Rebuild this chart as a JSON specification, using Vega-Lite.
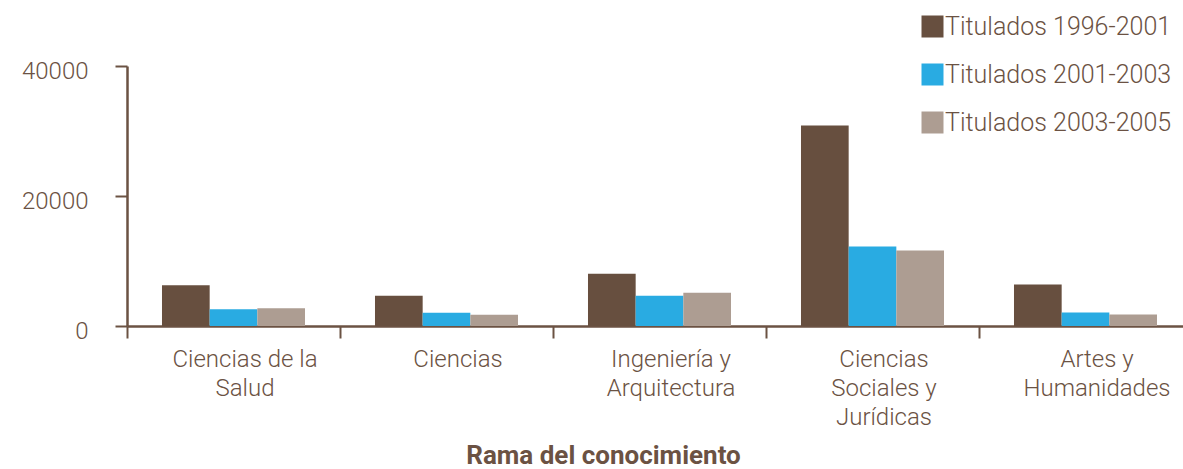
{
  "$schema": "https://vega.github.io/schema/vega-lite/v6.json",
  "autosize": {"type": "none"},
  "width": 1056,
  "height": 260,
  "padding": {"left": 127, "top": 66, "right": 0, "bottom": 143},
  "background": "white",
  "config": {
    "view": {"stroke": null},
    "font": "Roboto",
    "axis": {"grid": false, "domainColor": "#6b5243", "tickColor": "#6b5243", "labelColor": "#6b5243", "titleColor": "#6b5243", "labelFont": "Roboto", "labelFontWeight": 300, "labelFontSize": 24, "domainWidth": 2.5, "tickWidth": 2, "tickSize": 12}
  },
  "data": {
    "values": [
      {"rama": "Ciencias de la Salud", "periodo": "Titulados 1996-2001", "titulados": 6260},
      {"rama": "Ciencias de la Salud", "periodo": "Titulados 2001-2003", "titulados": 2570},
      {"rama": "Ciencias de la Salud", "periodo": "Titulados 2003-2005", "titulados": 2720},
      {"rama": "Ciencias", "periodo": "Titulados 1996-2001", "titulados": 4660},
      {"rama": "Ciencias", "periodo": "Titulados 2001-2003", "titulados": 2050},
      {"rama": "Ciencias", "periodo": "Titulados 2003-2005", "titulados": 1740},
      {"rama": "Ingeniería y Arquitectura", "periodo": "Titulados 1996-2001", "titulados": 8050},
      {"rama": "Ingeniería y Arquitectura", "periodo": "Titulados 2001-2003", "titulados": 4660},
      {"rama": "Ingeniería y Arquitectura", "periodo": "Titulados 2003-2005", "titulados": 5120},
      {"rama": "Ciencias Sociales y Jurídicas", "periodo": "Titulados 1996-2001", "titulados": 30850},
      {"rama": "Ciencias Sociales y Jurídicas", "periodo": "Titulados 2001-2003", "titulados": 12230},
      {"rama": "Ciencias Sociales y Jurídicas", "periodo": "Titulados 2003-2005", "titulados": 11620},
      {"rama": "Artes y Humanidades", "periodo": "Titulados 1996-2001", "titulados": 6390},
      {"rama": "Artes y Humanidades", "periodo": "Titulados 2001-2003", "titulados": 2080},
      {"rama": "Artes y Humanidades", "periodo": "Titulados 2003-2005", "titulados": 1770}
    ]
  },
  "mark": {"type": "bar"},
  "encoding": {
    "x": {
      "field": "rama",
      "type": "nominal",
      "sort": null,
      "scale": {"range": [0, 1065], "paddingInner": 0.3286, "paddingOuter": 0.1643},
      "axis": {
        "title": "Rama del conocimiento",
        "titleFont": "Roboto",
        "titleFontWeight": "bold",
        "titleFontSize": 26,
        "titleX": 476,
        "titleY": 137,
        "titleBaseline": "alphabetic",
        "labelAngle": 0,
        "bandPosition": 0,
        "tickOffset": -35,
        "labelOffset": 46,
        "labelAlign": "center",
        "labelPadding": 9,
        "labelLineHeight": 29,
        "labelBaseline": "top",
        "labelLimit": 300,
        "labelExpr": "{'Ciencias de la Salud': ['Ciencias de la', 'Salud'], 'Ciencias': ['Ciencias'], 'Ingeniería y Arquitectura': ['Ingeniería y', 'Arquitectura'], 'Ciencias Sociales y Jurídicas': ['Ciencias', 'Sociales y', 'Jurídicas'], 'Artes y Humanidades': ['Artes y', 'Humanidades']}[datum.value]"
      }
    },
    "xOffset": {"field": "periodo", "type": "nominal", "scale": {"paddingInner": 0, "paddingOuter": 0}},
    "y": {
      "field": "titulados",
      "type": "quantitative",
      "scale": {"domain": [0, 40000], "nice": false},
      "axis": {"title": null, "values": [0, 20000, 40000], "format": "d", "labelPadding": 27, "labelOffset": 5}
    },
    "color": {
      "field": "periodo",
      "type": "nominal",
      "scale": {"domain": ["Titulados 1996-2001", "Titulados 2001-2003", "Titulados 2003-2005"], "range": ["#674f3f", "#29abe2", "#ad9d92"]},
      "legend": {
        "title": null,
        "orient": "none",
        "legendX": 793,
        "legendY": -52,
        "symbolType": "square",
        "symbolSize": 484,
        "symbolStrokeWidth": 0,
        "symbolOpacity": 1,
        "labelFont": "Roboto",
        "labelFontWeight": 300,
        "labelFontSize": 25,
        "labelLimit": 400,
        "labelColor": "#6b5243",
        "labelOffset": 0,
        "rowPadding": 22
      }
    }
  }
}
